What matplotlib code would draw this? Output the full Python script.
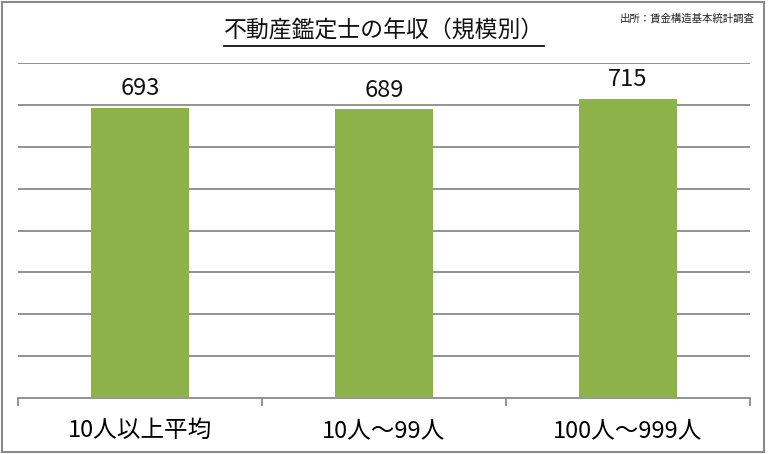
import matplotlib
matplotlib.use("Agg")
import matplotlib.pyplot as plt
from matplotlib.patches import Rectangle
from matplotlib.lines import Line2D

plt.rcParams['font.family'] = ['Noto Sans CJK JP', 'DejaVu Sans']

categories = ["10人以上平均", "10人～99人", "100人～999人"]
values = [693, 689, 715]
title = "不動産鑑定士の年収（規模別）"
source = "出所：賃金構造基本統計調査"

W, H = 768, 454
fig = plt.figure(figsize=(W/100, H/100), dpi=100)

# outer frame
frame = Rectangle((1.5/W, 1 - 452/H), 762.5/W, 450.5/H, transform=fig.transFigure,
                  facecolor="white", edgecolor="#8a8a8a", linewidth=1.5, zorder=1)
fig.patches.append(frame)

ax = fig.add_axes([18/W, 1 - 398/H, (750-18)/W, (398-63)/H])
ax.set_zorder(5)
ax.set_facecolor("none")
x = list(range(len(categories)))
bars = ax.bar(x, values, width=0.4, color="#8cb249", zorder=3)
ax.set_xlim(-0.5, len(categories) - 0.5)
ax.set_ylim(0, 800)
ax.set_yticks(range(100, 801, 100))
ax.yaxis.grid(True, color="#808080", linewidth=1.2, zorder=0)
ax.tick_params(axis='y', left=False, labelleft=False)
for s in ["left", "right", "top"]:
    ax.spines[s].set_visible(False)
ax.spines["bottom"].set_color("#808080")
ax.spines["bottom"].set_linewidth(1.2)
ax.set_xticks([-0.5, 0.5, 1.5, 2.5])
ax.set_xticklabels([])
ax.tick_params(axis='x', direction='out', length=6, color="#808080", width=1.2)
ax.set_xticks(x, minor=True)
ax.set_xticklabels(categories, minor=True, fontsize=17)
ax.tick_params(axis='x', which='minor', length=0, pad=15)

for xi, v in zip(x, values):
    ax.text(xi, v + 18, f"{v}", ha="center", va="bottom", fontsize=17, color="#111111")

t = fig.text(384/W, 1 - 31/H, title, ha="center", va="center", fontsize=16.5, color="#111111", zorder=6)
fig.text(755/W, 1 - 19/H, source, ha="right", va="center", fontsize=7.5, color="#222222", zorder=6)

fig.canvas.draw()
bb = t.get_window_extent().transformed(fig.transFigure.inverted())
fig.add_artist(Line2D([bb.x0, bb.x1], [1 - 46/H, 1 - 46/H], transform=fig.transFigure,
                      color="#111111", linewidth=1.3, zorder=6))

fig.savefig("out.png", dpi=100)
